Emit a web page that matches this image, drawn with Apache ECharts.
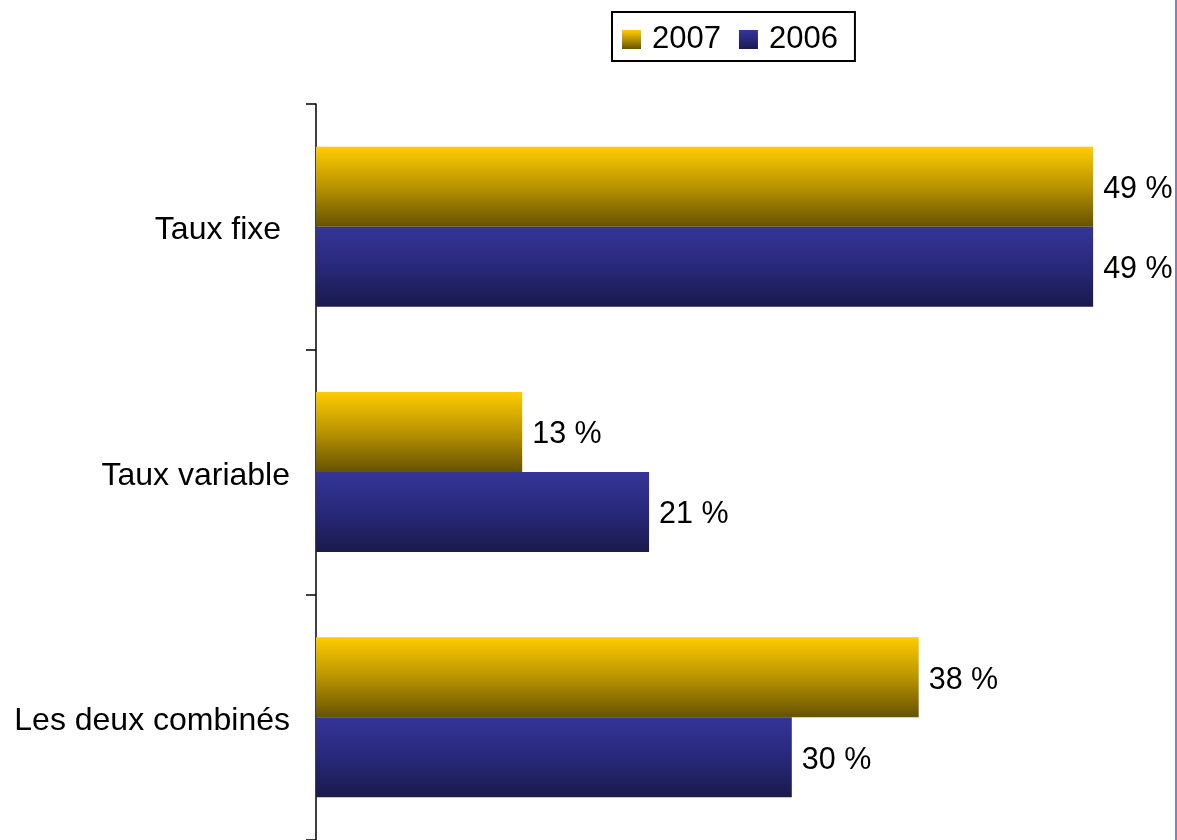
<!DOCTYPE html>
<html>
<head>
<meta charset="utf-8">
<script src="https://cdn.jsdelivr.net/npm/echarts@6/dist/echarts.min.js"></script>
<style>
html,body{margin:0;padding:0;background:#fff;}
#chart{width:1177px;height:840px;}
</style>
</head>
<body>
<div id="chart"></div>
<script>
const categories = ['Taux fixe ', 'Taux variable', 'Les deux combinés'];
const seriesNames = ['2007', '2006'];
const values2007 = [49, 13, 38];
const values2006 = [49, 21, 30];

const FONT = '"Liberation Sans", Arial, sans-serif';
const goldGrad = new echarts.graphic.LinearGradient(0, 0, 0, 1, [
  {offset: 0, color: '#FFCC00'},
  {offset: 0.5, color: '#B89400'},
  {offset: 1, color: '#665200'}
]);
const navyGrad = new echarts.graphic.LinearGradient(0, 0, 0, 1, [
  {offset: 0, color: '#353599'},
  {offset: 0.5, color: '#28287A'},
  {offset: 1, color: '#1A1A4C'}
]);

const chart = echarts.init(document.getElementById('chart'), null, {renderer: 'canvas'});
const labelCfg = {
  show: true, position: 'right', distance: 10, offset: [0, 3],
  formatter: '{c} %', color: '#000', fontSize: 30.5, fontFamily: FONT
};
chart.setOption({
  animation: false,
  backgroundColor: '#fff',
  legend: {
    data: seriesNames,
    left: 612, top: 12,
    padding: [12, 17, 6, 10],
    itemWidth: 19, itemHeight: 19, itemGap: 18,
    borderColor: '#000', borderWidth: 2,
    icon: 'rect',
    textStyle: {fontSize: 31, fontFamily: FONT, color: '#000', padding: [0, 0, 0, 6]}
  },
  grid: {left: 316, top: 104, width: 793, height: 738},
  xAxis: {
    type: 'value', min: 0, max: 50, show: false
  },
  yAxis: {
    type: 'category', data: categories, inverse: true,
    axisLine: {show: true, lineStyle: {color: '#000', width: 1.5}},
    axisTick: {show: true, length: 10, lineStyle: {color: '#000', width: 1.5}},
    axisLabel: {
      margin: 26,
      formatter: function (v) { return '{c|' + v + '}'; },
      rich: {c: {fontSize: 32, fontFamily: FONT, color: '#000', padding: [8, 0, 0, 0]}}
    }
  },
  series: [
    {name: seriesNames[0], type: 'bar', data: values2007, barWidth: 80, barGap: '0%',
     itemStyle: {color: goldGrad}, label: labelCfg},
    {name: seriesNames[1], type: 'bar', data: values2006, barWidth: 80, barGap: '0%',
     itemStyle: {color: navyGrad}, label: labelCfg}
  ],
  graphic: [{
    type: 'line', shape: {x1: 1176, y1: 0, x2: 1176, y2: 840},
    style: {stroke: '#8080C8', lineWidth: 2}
  }]
});
</script>
</body>
</html>
